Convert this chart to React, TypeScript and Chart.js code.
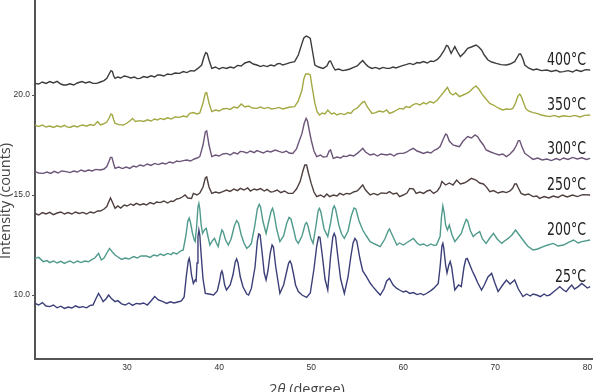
import React, { useEffect, useRef } from 'react';
import { Chart, registerables } from 'chart.js';
Chart.register(...registerables);

const seriesNames = ['25°C', '200°C', '250°C', '300°C', '350°C', '400°C'];
const seriesColors = ['#3b3f78', '#4f9a8c', '#4f3f3f', '#6b5578', '#a3a843', '#3c3c3c'];
const xTicks = [30, 40, 50, 60, 70, 80];
const yTicks = [10, 15, 20, 25];

const s25 = [[20,9.58],[20.4,9.5],[20.8,9.62],[21.2,9.45],[21.6,9.42],[22.0,9.5],[22.4,9.36],[22.8,9.44],[23.2,9.33],[23.6,9.4],[24.0,9.35],[24.4,9.46],[24.8,9.38],[25.2,9.42],[25.6,9.36],[26.0,9.48],[26.3,9.5],[26.6,9.8],[26.9,10.08],[27.2,9.85],[27.4,9.67],[27.7,9.8],[28.0,10.0],[28.3,9.82],[28.7,9.67],[29.0,9.72],[29.4,9.56],[29.8,9.5],[30.2,9.6],[30.6,9.48],[31.0,9.58],[31.4,9.55],[31.8,9.6],[32.2,9.5],[32.6,9.7],[33.0,9.92],[33.4,9.75],[33.9,9.67],[34.3,9.58],[34.7,9.66],[35.1,9.6],[35.5,9.65],[35.9,9.7],[36.2,9.9],[36.45,11.0],[36.65,11.7],[36.75,11.83],[36.85,11.6],[37.0,11.0],[37.2,10.58],[37.4,10.75],[37.5,10.7],[37.6,11.6],[37.7,12.9],[37.8,13.25],[37.9,13.0],[38.05,12.0],[38.25,10.8],[38.5,10.08],[38.9,10.05],[39.4,10.0],[39.8,10.2],[40.05,10.7],[40.2,11.1],[40.3,11.2],[40.4,11.05],[40.6,10.5],[40.8,10.25],[41.2,10.5],[41.5,11.0],[41.75,11.65],[41.9,11.8],[42.05,11.6],[42.3,10.9],[42.6,10.4],[43.0,10.05],[43.2,10.0],[43.5,10.33],[43.9,11.4],[44.15,12.7],[44.3,13.05],[44.45,13.0],[44.65,12.2],[44.9,11.1],[45.1,10.75],[45.3,11.2],[45.55,12.1],[45.75,12.5],[45.9,12.4],[46.15,11.4],[46.6,10.08],[47.0,10.5],[47.3,11.1],[47.55,11.6],[47.7,11.7],[47.85,11.55],[48.1,11.0],[48.3,10.5],[48.6,10.17],[49.0,10.0],[49.5,9.88],[49.9,10.1],[50.3,11.3],[50.6,12.45],[50.8,12.9],[50.95,12.88],[51.2,12.0],[51.5,10.8],[51.8,10.25],[52.1,11.9],[52.35,12.9],[52.5,13.08],[52.65,12.9],[52.9,11.9],[53.2,10.8],[53.6,10.08],[54.0,10.9],[54.3,11.9],[54.55,12.6],[54.75,12.83],[54.95,12.7],[55.3,11.8],[55.6,11.2],[56.0,10.92],[56.4,10.6],[56.7,10.42],[57.1,10.2],[57.5,10.0],[57.9,10.3],[58.2,10.7],[58.5,10.83],[58.9,10.5],[59.3,10.33],[59.6,10.25],[60.0,10.15],[60.3,10.2],[60.7,10.08],[61.1,10.12],[61.5,10.02],[61.9,10.08],[62.2,10.0],[62.6,10.1],[63.0,10.22],[63.3,10.33],[63.8,10.58],[64.0,11.4],[64.2,12.45],[64.3,12.58],[64.4,12.35],[64.6,11.5],[64.75,11.1],[64.95,11.5],[65.1,11.67],[65.25,11.4],[65.6,10.25],[66.0,10.5],[66.3,10.42],[66.6,11.4],[66.8,11.8],[66.95,11.83],[67.15,11.6],[67.5,11.2],[67.8,10.92],[68.1,10.6],[68.5,10.25],[68.8,10.5],[69.2,10.9],[69.6,11.08],[69.95,10.6],[70.3,10.17],[70.8,10.5],[71.2,10.75],[71.6,10.55],[72.1,10.75],[72.5,10.3],[73.0,9.92],[73.4,10.05],[73.8,9.95],[74.1,10.05],[74.5,10.0],[74.9,9.92],[75.3,10.05],[75.6,9.96],[75.9,10.0],[76.3,10.15],[76.7,10.3],[77.0,10.42],[77.4,10.25],[77.7,10.17],[78.0,10.35],[78.3,10.5],[78.6,10.3],[79.0,10.42],[79.4,10.58],[80.0,10.35],[80.3,10.42]];

const s200 = [[20,11.83],[20.4,11.88],[20.9,11.67],[21.3,11.72],[21.6,11.62],[22.0,11.7],[22.4,11.6],[22.8,11.68],[23.2,11.58],[23.4,11.63],[23.8,11.7],[24.2,11.6],[24.6,11.7],[25.0,11.62],[25.4,11.7],[25.8,11.66],[26.2,11.78],[26.5,11.85],[26.9,12.08],[27.2,11.75],[27.5,11.85],[27.8,12.1],[28.1,12.33],[28.4,12.15],[28.7,12.0],[29.0,11.9],[29.4,11.78],[29.8,11.85],[30.2,11.8],[30.7,11.92],[31.1,11.85],[31.5,11.95],[32.1,11.95],[32.5,11.88],[32.9,12.0],[33.3,11.95],[33.6,12.05],[34.0,11.98],[34.4,12.08],[34.8,12.02],[35.0,12.12],[35.4,12.05],[35.8,12.2],[36.1,12.25],[36.4,13.0],[36.6,13.7],[36.75,13.85],[36.9,13.6],[37.1,13.1],[37.3,12.75],[37.4,12.67],[37.55,13.4],[37.7,14.4],[37.8,14.58],[37.9,14.3],[38.05,13.5],[38.2,13.08],[38.4,13.25],[38.6,13.33],[38.8,12.9],[39.0,12.5],[39.25,12.7],[39.5,12.83],[39.7,12.6],[39.9,12.42],[40.1,12.9],[40.3,13.25],[40.45,13.15],[40.7,12.75],[41.0,12.5],[41.3,12.8],[41.65,13.45],[41.9,13.72],[42.1,13.6],[42.4,13.0],[42.7,12.6],[43.0,12.33],[43.3,12.45],[43.5,12.58],[43.85,13.4],[44.15,14.3],[44.35,14.53],[44.5,14.4],[44.75,13.7],[45.1,13.08],[45.35,13.6],[45.65,14.2],[45.8,14.33],[45.95,14.1],[46.25,13.3],[46.6,12.67],[47.0,12.95],[47.35,13.6],[47.6,13.88],[47.8,13.8],[48.1,13.25],[48.35,12.75],[48.6,12.58],[49.0,12.95],[49.35,13.55],[49.5,13.62],[49.65,13.45],[49.95,12.85],[50.2,12.58],[50.5,13.4],[50.75,14.2],[50.9,14.33],[51.05,14.15],[51.4,13.3],[51.8,12.92],[52.1,13.6],[52.35,14.3],[52.5,14.45],[52.65,14.3],[53.0,13.5],[53.3,13.05],[53.6,12.83],[54.0,13.2],[54.35,13.95],[54.65,14.35],[54.85,14.3],[55.2,13.7],[55.6,13.25],[56.0,12.95],[56.4,12.67],[56.9,12.55],[57.5,12.42],[58.0,12.8],[58.35,13.2],[58.5,13.3],[58.7,13.1],[58.9,12.9],[59.3,12.5],[59.6,12.6],[60.0,12.5],[60.5,12.65],[61.1,12.83],[61.5,12.6],[61.8,12.5],[62.2,12.55],[62.6,12.45],[63.0,12.55],[63.3,12.48],[63.6,12.5],[64.0,12.92],[64.15,13.9],[64.3,14.45],[64.45,14.1],[64.6,13.5],[64.8,13.25],[65.0,13.5],[65.3,13.0],[65.6,12.67],[66.0,12.9],[66.3,13.08],[66.6,13.5],[66.85,13.78],[67.0,13.7],[67.3,13.2],[67.6,12.92],[67.9,13.05],[68.3,13.17],[68.6,12.8],[69.0,12.58],[69.4,12.85],[69.8,13.08],[70.2,12.8],[70.7,12.58],[71.0,12.7],[71.4,12.83],[71.8,13.0],[72.2,13.25],[72.6,13.0],[73.0,12.75],[73.5,12.45],[74.1,12.25],[74.6,12.3],[75.2,12.42],[75.7,12.5],[76.3,12.58],[76.8,12.45],[77.4,12.5],[77.9,12.62],[78.5,12.75],[79.0,12.6],[79.4,12.67],[80.3,12.75]];

const s250 = [[20,14.08],[20.4,14.0],[20.8,14.12],[21.2,14.05],[21.6,14.13],[22.0,14.02],[22.4,14.1],[22.8,14.15],[23.2,14.05],[23.6,14.12],[24.0,14.05],[24.4,14.15],[24.8,14.08],[25.2,14.13],[25.6,14.05],[26.0,14.15],[26.4,14.1],[26.8,14.2],[27.1,14.2],[27.5,14.3],[27.8,14.42],[28.05,14.7],[28.2,14.85],[28.4,14.65],[28.7,14.33],[29.0,14.45],[29.3,14.35],[29.7,14.5],[30.0,14.45],[30.4,14.55],[30.7,14.48],[31.0,14.58],[31.4,14.5],[31.8,14.56],[32.1,14.5],[32.5,14.62],[32.9,14.55],[33.2,14.65],[33.6,14.62],[34.0,14.7],[34.4,14.6],[34.8,14.7],[35.0,14.67],[35.4,14.8],[35.7,14.83],[36.0,14.9],[36.3,15.0],[36.6,14.85],[37.0,14.83],[37.2,15.08],[37.6,15.0],[37.9,15.1],[38.25,15.4],[38.5,15.85],[38.65,15.9],[38.9,15.4],[39.2,15.08],[39.6,15.15],[40.0,15.1],[40.4,15.17],[40.8,15.25],[41.2,15.18],[41.6,15.3],[42.0,15.22],[42.3,15.33],[42.7,15.25],[43.1,15.35],[43.4,15.2],[43.8,15.3],[44.1,15.25],[44.5,15.32],[44.9,15.2],[45.2,15.28],[45.6,15.15],[45.9,15.17],[46.3,15.25],[46.7,15.12],[47.1,15.2],[47.5,15.08],[48.0,15.08],[48.4,15.3],[48.8,15.67],[49.1,16.2],[49.3,16.5],[49.5,16.5],[49.7,16.1],[50.0,15.58],[50.3,15.15],[50.6,14.92],[51.0,15.0],[51.4,14.9],[51.7,15.05],[52.0,14.92],[52.4,15.0],[52.8,14.95],[53.1,15.08],[53.5,15.0],[53.8,15.08],[54.2,15.05],[54.6,15.15],[55.0,15.2],[55.3,15.35],[55.6,15.5],[55.9,15.25],[56.4,15.0],[56.8,15.08],[57.2,15.0],[57.6,15.1],[58.2,15.08],[58.5,15.17],[58.9,15.05],[59.3,15.1],[59.6,14.92],[60.0,15.0],[60.4,15.1],[60.7,15.33],[61.1,15.3],[61.4,15.08],[61.8,15.15],[62.2,15.08],[62.6,15.2],[62.9,15.25],[63.3,15.08],[63.7,15.2],[64.0,15.4],[64.2,15.67],[64.6,15.5],[65.0,15.6],[65.4,15.5],[65.8,15.75],[66.2,15.55],[66.6,15.6],[66.9,15.67],[67.4,15.83],[67.9,15.75],[68.3,15.6],[68.7,15.55],[69.0,15.42],[69.4,15.17],[69.8,15.22],[70.3,15.1],[70.8,15.17],[71.2,15.12],[71.6,15.2],[71.9,15.35],[72.1,15.55],[72.3,15.55],[72.5,15.35],[72.8,15.08],[73.2,15.0],[73.6,15.05],[74.1,14.92],[74.5,14.95],[74.8,14.83],[75.3,14.92],[75.8,14.85],[76.3,14.95],[76.8,14.88],[77.3,15.0],[77.8,14.9],[78.4,15.0],[78.9,14.92],[79.5,15.02],[80.3,15.0]];

const s300 = [[20,16.17],[20.4,16.1],[20.9,16.08],[21.3,16.15],[21.7,16.08],[22.1,16.18],[22.5,16.1],[22.9,16.2],[23.4,16.17],[23.8,16.12],[24.2,16.2],[24.6,16.15],[25.0,16.25],[25.4,16.18],[25.8,16.25],[26.2,16.2],[26.6,16.28],[27.1,16.25],[27.5,16.3],[27.8,16.42],[28.05,16.7],[28.2,16.88],[28.35,16.88],[28.55,16.55],[28.7,16.33],[29.1,16.4],[29.5,16.32],[29.9,16.4],[30.3,16.33],[30.7,16.45],[31.0,16.4],[31.4,16.5],[31.8,16.45],[32.2,16.55],[32.6,16.48],[33.0,16.58],[33.4,16.52],[33.8,16.6],[34.2,16.55],[34.6,16.65],[35.0,16.6],[35.4,16.7],[35.7,16.67],[36.1,16.72],[36.5,16.75],[36.9,16.7],[37.3,16.8],[37.6,16.85],[37.9,16.92],[38.25,17.5],[38.5,18.15],[38.65,18.2],[38.9,17.5],[39.2,16.92],[39.6,17.0],[40.0,16.95],[40.4,17.05],[40.8,17.08],[41.2,17.0],[41.6,17.12],[42.0,17.05],[42.3,17.18],[42.6,17.17],[43.0,17.1],[43.4,17.2],[43.8,17.12],[44.1,17.22],[44.4,17.17],[44.8,17.1],[45.2,17.2],[45.6,17.15],[46.1,17.25],[46.5,17.18],[46.9,17.12],[47.3,17.2],[47.6,17.1],[48.0,17.08],[48.4,17.3],[48.7,17.7],[49.0,18.08],[49.25,18.6],[49.45,18.83],[49.6,18.7],[49.8,18.2],[50.0,17.75],[50.3,17.2],[50.6,16.92],[51.0,17.0],[51.3,16.9],[51.7,16.92],[51.95,17.2],[52.1,17.25],[52.4,16.83],[52.8,16.9],[53.2,16.85],[53.5,16.95],[53.8,16.92],[54.2,17.0],[54.6,16.95],[55.0,17.08],[55.3,17.2],[55.6,17.33],[55.9,17.15],[56.4,17.0],[56.8,17.05],[57.2,16.95],[57.6,17.05],[58.2,17.0],[58.6,17.05],[59.0,16.95],[59.3,17.05],[59.6,17.08],[60.0,17.08],[60.4,17.15],[60.7,17.25],[61.1,17.33],[61.5,17.2],[61.8,17.15],[62.2,17.08],[62.6,17.15],[63.0,17.1],[63.4,17.25],[63.7,17.3],[64.0,17.42],[64.35,17.8],[64.6,18.05],[64.75,18.0],[65.0,17.7],[65.4,17.5],[65.8,17.45],[66.1,17.42],[66.5,17.7],[67.0,17.92],[67.4,17.85],[67.8,18.0],[68.1,17.9],[68.3,17.75],[68.7,17.5],[69.0,17.25],[69.5,17.15],[69.9,17.08],[70.4,17.0],[70.8,17.05],[71.2,16.92],[71.6,17.05],[72.0,17.25],[72.3,17.5],[72.5,17.72],[72.65,17.72],[72.9,17.4],[73.2,17.08],[73.6,16.95],[74.1,16.78],[74.6,16.85],[75.1,16.75],[75.6,16.8],[76.1,16.72],[76.6,16.82],[77.0,16.75],[77.4,16.85],[77.9,16.78],[78.4,16.88],[78.9,16.8],[79.4,16.86],[79.9,16.78],[80.3,16.83]];

const s350 = [[20,18.5],[20.4,18.42],[20.8,18.5],[21.2,18.4],[21.6,18.45],[22.0,18.38],[22.4,18.46],[22.8,18.4],[23.2,18.48],[23.4,18.42],[23.8,18.38],[24.2,18.46],[24.6,18.4],[25.0,18.48],[25.2,18.5],[25.6,18.44],[26.0,18.52],[26.4,18.48],[26.8,18.67],[27.1,18.5],[27.4,18.55],[27.8,18.65],[28.05,18.85],[28.25,19.05],[28.4,19.0],[28.55,18.75],[28.7,18.58],[29.1,18.52],[29.6,18.5],[30.0,18.6],[30.3,18.7],[30.6,18.83],[30.9,18.68],[31.4,18.72],[31.8,18.68],[32.2,18.76],[32.6,18.7],[33.0,18.8],[33.3,18.75],[33.6,18.83],[34.0,18.78],[34.4,18.86],[34.8,18.8],[35.2,18.9],[35.7,18.88],[36.1,18.95],[36.5,18.9],[36.8,19.08],[37.2,19.12],[37.6,19.05],[37.9,19.1],[38.25,19.6],[38.5,20.1],[38.65,20.12],[38.9,19.6],[39.2,19.17],[39.6,19.25],[40.0,19.2],[40.4,19.3],[40.8,19.33],[41.2,19.28],[41.6,19.4],[42.0,19.35],[42.4,19.55],[42.8,19.4],[43.2,19.45],[43.6,19.35],[44.1,19.33],[44.5,19.4],[44.9,19.32],[45.3,19.38],[45.7,19.3],[46.1,19.33],[46.5,19.38],[46.9,19.3],[47.3,19.35],[47.7,19.4],[48.2,19.42],[48.6,19.7],[49.0,20.25],[49.2,20.8],[49.4,21.05],[49.7,21.05],[49.9,21.0],[50.1,20.4],[50.4,19.58],[50.65,19.15],[50.9,19.0],[51.2,19.1],[51.5,19.05],[51.8,19.25],[52.2,19.05],[52.5,19.1],[52.8,19.0],[53.2,19.08],[53.6,19.02],[54.0,19.12],[54.3,19.08],[54.6,19.25],[55.0,19.35],[55.3,19.5],[55.6,19.65],[55.8,19.67],[56.1,19.4],[56.6,19.08],[57.0,19.12],[57.4,19.2],[57.8,19.15],[58.2,19.25],[58.5,19.08],[58.9,19.15],[59.3,19.25],[59.6,19.33],[60.0,19.3],[60.3,19.42],[60.7,19.38],[61.0,19.5],[61.4,19.58],[61.8,19.5],[62.2,19.62],[62.5,19.55],[62.9,19.67],[63.3,19.6],[63.7,19.75],[64.0,19.92],[64.4,20.15],[64.8,20.38],[65.1,20.1],[65.4,20.0],[65.7,20.1],[66.1,19.92],[66.5,20.0],[66.9,20.08],[67.2,20.17],[67.6,20.35],[67.9,20.45],[68.2,20.3],[68.5,20.08],[68.9,19.85],[69.4,19.58],[69.8,19.5],[70.3,19.35],[70.8,19.25],[71.2,19.3],[71.6,19.28],[71.9,19.33],[72.2,19.6],[72.45,19.95],[72.65,20.05],[72.8,19.95],[73.0,19.7],[73.3,19.33],[73.6,19.2],[74.1,19.12],[74.5,19.08],[75.0,19.0],[75.5,18.95],[75.9,18.92],[76.4,18.98],[76.9,18.9],[77.4,18.96],[78.1,18.92],[78.6,18.98],[79.2,18.9],[79.7,18.98],[80.3,19.0]];

const s400 = [[20,20.58],[20.4,20.55],[20.8,20.65],[21.2,20.58],[21.6,20.67],[22.0,20.6],[22.4,20.68],[22.8,20.55],[23.1,20.5],[23.4,20.5],[23.8,20.56],[24.2,20.5],[24.6,20.6],[25.1,20.67],[25.5,20.6],[25.9,20.66],[26.3,20.58],[26.7,20.58],[27.1,20.65],[27.5,20.72],[27.8,20.83],[28.05,21.05],[28.25,21.22],[28.4,21.18],[28.55,20.95],[28.7,20.83],[29.0,20.9],[29.3,20.85],[29.7,20.95],[30.0,20.92],[30.4,20.85],[30.8,20.9],[31.1,20.82],[31.4,20.83],[31.8,20.92],[32.2,20.88],[32.6,20.96],[33.0,20.9],[33.3,21.0],[33.6,21.0],[34.0,20.95],[34.4,21.05],[34.8,21.02],[35.2,21.1],[35.7,21.08],[36.1,21.17],[36.5,21.12],[36.9,21.22],[37.3,21.2],[37.7,21.33],[38.1,21.5],[38.35,21.9],[38.55,22.12],[38.7,22.08],[38.9,21.75],[39.2,21.33],[39.6,21.4],[40.0,21.3],[40.4,21.38],[40.8,21.33],[41.2,21.4],[41.6,21.35],[42.0,21.48],[42.4,21.45],[42.8,21.6],[43.3,21.67],[43.7,21.55],[44.1,21.5],[44.5,21.42],[44.8,21.48],[45.2,21.42],[45.6,21.5],[46.0,21.45],[46.3,21.55],[46.6,21.58],[46.9,21.5],[47.3,21.56],[47.7,21.62],[48.2,21.67],[48.6,22.0],[49.0,22.58],[49.2,22.85],[49.45,22.95],[49.7,22.9],[49.9,22.83],[50.1,22.3],[50.4,21.5],[50.8,21.4],[51.3,21.33],[51.7,21.45],[51.95,21.68],[52.1,21.7],[52.4,21.4],[52.6,21.25],[53.0,21.3],[53.4,21.22],[53.8,21.25],[54.2,21.3],[54.6,21.38],[55.0,21.45],[55.3,21.6],[55.6,21.72],[55.9,21.55],[56.2,21.42],[56.6,21.33],[57.0,21.38],[57.4,21.3],[57.8,21.38],[58.2,21.33],[58.5,21.33],[58.9,21.4],[59.2,21.35],[59.6,21.42],[60.0,21.48],[60.3,21.52],[60.7,21.58],[61.1,21.52],[61.5,21.62],[61.8,21.6],[62.2,21.67],[62.6,21.6],[63.0,21.7],[63.3,21.67],[63.7,21.78],[64.0,21.92],[64.4,22.2],[64.7,22.48],[64.85,22.45],[65.0,22.3],[65.2,22.08],[65.4,22.25],[65.6,22.42],[65.9,22.15],[66.2,21.92],[66.6,22.1],[67.0,22.33],[67.4,22.4],[67.9,22.5],[68.2,22.4],[68.5,22.25],[68.8,22.0],[69.2,21.75],[69.6,21.65],[70.1,21.58],[70.6,21.52],[71.2,21.5],[71.6,21.55],[72.1,21.67],[72.4,21.9],[72.6,22.05],[72.75,22.05],[73.0,21.8],[73.2,21.5],[73.6,21.35],[74.1,21.25],[74.5,21.3],[75.0,21.22],[75.6,21.25],[76.1,21.18],[76.6,21.24],[77.0,21.15],[77.4,21.17],[77.9,21.22],[78.4,21.15],[78.8,21.25],[79.3,21.18],[79.8,21.27],[80.3,21.25]];

const seriesData = [s25, s200, s250, s300, s350, s400];

const xTitle = ['2', 'θ', ' (degree)'];
const yTitle = 'Intensity (counts)';

const annotate = {
  id: 'annotate',
  afterDatasetsDraw(chart: any) {
    const { ctx, chartArea, scales } = chart;
    const ys = scales.y;
    chart.data.datasets.forEach((ds: any) => {
      const last = ds.data[ds.data.length - 1].y;
      const py = ys.getPixelForValue(last) - 9;
      ctx.save();
      ctx.font = '17px "Liberation Sans Narrow", "DejaVu Sans Condensed", sans-serif';
      ctx.fillStyle = '#222';
      ctx.textBaseline = 'middle';
      ctx.textAlign = 'right';
      ctx.translate(chartArea.right - 6, py);
      ctx.scale(0.82, 1);
      ctx.fillText(ds.label, 0, 0);
      ctx.restore();
    });
    // y title
    ctx.save();
    ctx.font = '14.5px "Open Sans", sans-serif';
    ctx.fillStyle = '#444';
    ctx.textAlign = 'center';
    ctx.textBaseline = 'alphabetic';
    ctx.translate(9.5, 221);
    ctx.rotate(-Math.PI / 2);
    ctx.fillText(yTitle, 0, 0);
    ctx.restore();
    // x title
    ctx.save();
    ctx.fillStyle = '#444';
    ctx.textBaseline = 'alphabetic';
    const fN = '14.5px "Open Sans", sans-serif';
    const fI = 'italic 14.5px "Open Sans", sans-serif';
    const fonts = [fN, fI, fN];
    let total = 0;
    const widths = xTitle.map((t, i) => { ctx.font = fonts[i]; const w = ctx.measureText(t).width; total += w; return w; });
    let x = 307 - total / 2;
    const by = chart.height + 2;
    xTitle.forEach((t, i) => { ctx.font = fonts[i]; ctx.textAlign = 'left'; ctx.fillText(t, x, by); x += widths[i]; });
    ctx.restore();
  },
};

export default function App() {
  const ref = useRef<HTMLCanvasElement>(null);
  useEffect(() => {
    if (!ref.current) return;
    const chart = new Chart(ref.current, {
      type: 'line',
      data: {
        datasets: seriesData.map((d, i) => ({
          label: seriesNames[i],
          data: d.map((p) => ({ x: p[0], y: p[1] })),
          borderColor: seriesColors[i],
          borderWidth: 1.4,
          pointRadius: 0,
          tension: 0,
          fill: false,
        })),
      },
      options: {
        animation: false,
        responsive: false,
        devicePixelRatio: 1,
        layout: { padding: { top: 15, right: 6, left: 0, bottom: 0 } },
        plugins: { legend: { display: false }, tooltip: { enabled: false } },
        scales: {
          x: {
            type: 'linear',
            min: 20,
            max: 80.5,
            afterBuildTicks: (s: any) => { s.ticks = xTicks.map((v) => ({ value: v })); },
            afterFit: (s: any) => { s.height = 33; },
            grid: { display: false, drawTicks: false },
            border: { display: true, color: '#555', width: 2 },
            ticks: { color: '#333', font: { family: 'Liberation Sans', size: 8.5 }, padding: 4, maxRotation: 0, callback: (v: any) => String(v) },
          },
          y: {
            type: 'linear',
            min: 6.8,
            max: 25,
            afterBuildTicks: (s: any) => { s.ticks = yTicks.map((v) => ({ value: v })); },
            afterFit: (s: any) => { s.width = 35; },
            grid: { drawOnChartArea: false, drawTicks: true, tickLength: 3, color: '#555' },
            border: { display: true, color: '#555', width: 2 },
            ticks: { color: '#333', font: { family: 'Liberation Sans', size: 8.5 }, padding: 2, callback: (v: any) => Number(v).toFixed(1) },
          },
        },
      },
      plugins: [annotate],
    } as any);
    return () => chart.destroy();
  }, []);
  return (
    <div style={{ position: 'absolute', left: 0, top: 0, width: 598, height: 392, overflow: 'hidden', background: '#fff' }}>
      <canvas ref={ref} width={598} height={412} style={{ position: 'absolute', left: 0, top: -20, width: 598, height: 412 }} />
    </div>
  );
}
